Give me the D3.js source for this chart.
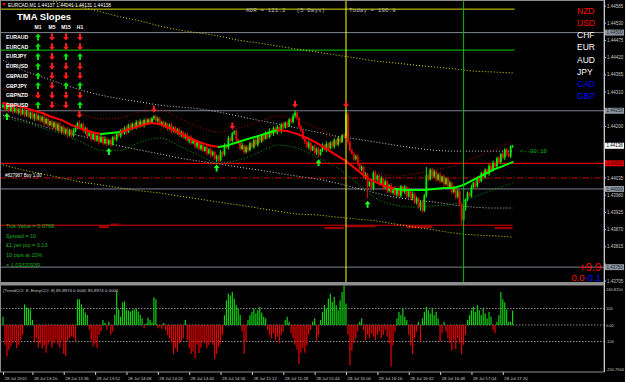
<!DOCTYPE html>
<html>
<head>
<meta charset="utf-8">
<script src="https://cdn.jsdelivr.net/npm/d3@7/dist/d3.min.js"></script>
<style>
  body { margin: 0; background: #000; }
  svg { display: block; }
  text { font-family: "Liberation Sans", Arial, sans-serif; }
  .mono { font-family: "Liberation Mono", "DejaVu Sans Mono", monospace; }
</style>
</head>
<body>
<svg id="chart"></svg>
<script>
const width = 625;
const height = 382;
const plotRight = 604;
const mainBottom = 282;
const subTop = 285;
const subBottom = 372;

// ---- data (prices in points above 1.44000) ----
const opens = [262,268,255,270,250,262,248,258,244,256, 240,252,236,248,230,244,226,240,222,234,
  218,230,210,224,204,216,198,212,190,206, 184,198,178,192,172,188,170,186,198,210,
  196,206,184,194,170,180,160,176,156,170, 150,166,146,160,144,156,142,166,158,176,
  170,188,178,196,182,204,192,208,198,214, 202,216,204,220,208,222,212,226,232,218,
  224,206,214,198,208,192,204,186,196,180, 190,172,182,164,172,154,166,146,156,136,
  148,128,140,122,134,114,126,108,118,96, 104,92,118,110,140,132,162,154,178,184,
  158,146,128,140,118,134,124,146,134,156, 142,166,152,172,160,180,166,186,176,194,
  180,198,186,206,196,212,202,222,214,234, 244,226,200,186,160,150,134,146,124,136,
  116,128,110,124,140,126,144,130,148,136, 156,142,162,150,172,168,238,150,124,112,
  96,104,80,62,70,38,46,10,22,2, 52,30,42,16,34,4,24,-6,12,-12,
  4,-18,0,-22,8,-10,6,-24,-8,-30, -16,-44,-30,-58,-42,-70,-20,44,30,62,
  40,56,30,46,24,40,16,34,6,20, -10,4,-26,-8,-48,-100,-62,-34,-14,-22,
  6,20,8,36,24,50,38,62,48,74, 60,84,72,98,86,112,100,126,110,104,137];
const closes = [268,255,270,250,262,248,258,244,256,240, 252,236,248,230,244,226,240,222,234,218,
  230,210,224,204,216,198,212,190,206,184, 198,178,192,172,188,170,186,198,210,196,
  206,184,194,170,180,160,176,156,170,150, 166,146,160,144,156,142,166,158,176,170,
  188,178,196,182,204,192,208,198,214,202, 216,204,220,208,222,212,226,232,218,224,
  206,214,198,208,192,204,186,196,180,190, 172,182,164,172,154,166,146,156,136,148,
  128,140,122,134,114,126,108,118,96,104, 92,118,110,140,132,162,154,178,184,158,
  146,128,140,118,134,124,146,134,156,142, 166,152,172,160,180,166,186,176,194,180,
  198,186,206,196,212,202,222,214,234,244, 226,200,186,160,150,134,146,124,136,116,
  128,110,124,140,126,144,130,148,136,156, 142,162,150,172,168,238,150,124,112,96,
  104,80,62,70,38,46,10,22,2,52, 30,42,16,34,4,24,-6,12,-12,4,
  -18,0,-22,8,-10,6,-24,-8,-30,-16, -44,-30,-58,-42,-70,-20,44,30,62,40,
  56,30,46,24,40,16,34,6,20,-10, 4,-26,-8,-48,-100,-62,-34,-14,-22,6,
  20,8,36,24,50,38,62,48,74,60, 84,72,98,86,112,100,126,110,104,137,138];
const wickUp = [6,4,8,3,5,7,4,6,3,5, 7,4,5,8,3,6,4,5,7,3, 5,8,4,6,3,7,5,4,6,8, 4,6,3,7,5,4,8,6,5,9,
  4,7,5,3,6,8,4,5,7,3, 6,4,8,5,3,7,4,6,5,8, 3,6,4,7,5,8,4,3,6,5, 7,4,5,8,3,6,4,4,5,7,
  6,3,5,7,4,6,8,3,5,4, 7,5,3,6,8,4,5,7,3,6, 4,8,5,3,6,4,7,5,3,6, 5,7,4,6,3,8,5,4,4,6,
  4,6,8,3,5,7,4,6,5,8, 3,6,4,7,5,3,8,4,6,5, 7,4,5,8,3,6,4,5,7,8, 4,6,5,3,7,4,8,5,3,6,
  5,7,4,6,3,8,5,4,6,7, 4,6,5,3,7,14,8,5,4,6, 5,7,4,6,3,8,5,4,6,5, 7,4,5,8,3,6,4,5,7,3,
  6,4,8,5,3,7,4,6,5,8, 3,6,4,7,5,4,26,5,4,6, 7,4,5,8,3,6,4,5,7,3, 6,4,8,5,3,7,4,6,5,8,
  3,6,4,7,5,8,4,3,6,5, 7,4,5,8,3,6,4,5,7,3,3];
const wickDn = [5,7,4,6,3,8,5,4,6,7, 4,6,5,3,7,4,8,5,3,6, 5,7,4,6,3,8,5,4,6,5, 7,4,5,8,3,6,4,5,7,3,
  6,4,8,5,3,7,4,6,5,8, 3,6,4,7,5,6,4,3,6,5, 7,4,5,8,3,6,4,5,7,3, 6,4,8,5,3,7,4,6,5,8,
  4,6,5,3,7,4,8,5,3,6, 5,7,4,6,3,8,5,4,6,7, 4,6,5,3,7,4,8,5,3,10, 6,4,8,5,3,7,4,6,5,8,
  3,6,4,7,5,8,4,3,6,5, 7,4,5,8,3,6,4,5,7,3, 6,4,8,5,3,7,4,6,5,8, 4,6,5,3,7,4,8,5,3,6,
  8,7,4,6,3,8,5,4,6,7, 4,6,5,3,7,4,8,5,3,6, 5,7,4,6,3,8,40,4,6,7, 4,6,5,3,7,4,8,5,3,6,
  5,7,4,6,3,8,5,4,6,7, 4,6,5,12,7,4,8,5,3,6, 5,7,4,6,3,8,5,4,6,7, 4,6,5,3,16,4,8,5,3,6,
  5,7,4,6,3,8,5,4,6,7, 4,6,5,3,7,4,8,5,3,6,6];

// TMA centre line, every 5 bars, and its trend flag per segment (1 = up / green)
const tmaMid = [275,268,262,252,243,230,220,204,192,182, 176,179,182,192,201,211,208,195,179,163,
  150,140,134,140,150,160,169,179,188,185, 176,163,147,128,108,89,64,38,22,9,
  0,-3,-3,-3,0,3,3,13,29,45, 61,73,86];
const tmaTrend = [0,0,0,0,0,0,0,0,0,0, 1,1, 0,0,0,0,0,0,0,0,0,0, 1,1,1,1,1,1,
  0,0,0,0,0,0,0,0,0,0,0,0, 1,1,1,1,1,1,1,1,1,1,1,1];
// bands, every 10 bars
const tmaUpper = [320,307,288,265,240,224,227,246,252,227, 198,182,195,214,233,220,195,163,108,54,
  41,48,61,73,99,124,153];
const tmaLower = [227,214,195,176,150,124,124,150,163,137, 108,83,92,115,140,131,102,70,22,-29,
  -51,-58,-54,-48,-26,-3,19];
const outerUpper = [412,380,358,336,316,300,288,278,268,262, 256,246,233,220,208,195,182,169,160,150,
  140,131,124,121,121,121,121];
const outerLower = [236,220,201,185,169,153,137,124,112,99, 89,80,70,61,51,41,32,19,3,-13,
  -26,-35,-42,-51,-58,-61,-61];
const channelUpper = [633,620,607,595,582,566,550,537,521,508, 499,489,476,467,457,447,438,428,419,409,
  403,396,390,384,377,374,371];
const channelLower = [77,61,48,35,22,13,3,-6,-13,-23, -32,-42,-51,-61,-71,-80,-83,-90,-96,-102,
  -112,-122,-131,-141,-147,-150,-154];

// signal arrows (bar index)
const sellArrows = [39, 77, 117, 149, 175];
const buyArrows = [2, 54, 109, 161, 186];

// CCI histogram
const cci = [50,-120,-190,-150,-130,-110,-95,-140,-120,-90, -60,125,106,100,94,31,-106,-81,-137,-110,
  -143,-125,-168,-120,-100,-137,-110,-90,-120,-137, -95,-175,-187,-95,-80,-70,-75,-100,156,156,
  125,100,75,60,-30,-90,-130,-110,-140,-60, -40,30,12,-31,20,-60,-40,62,206,94,
  50,137,144,94,88,81,90,95,100,81, 62,40,-20,10,44,30,15,168,156,-20,
  -10,-25,12,-31,-62,-80,-106,-175,-140,-160, -110,-100,-80,31,-90,-140,-175,-160,-200,-120,
  -170,-137,-100,-110,-140,-120,-100,-120,-206,-175, -130,-110,-60,60,150,190,180,200,160,120,
  100,60,-40,-175,-100,30,60,80,100,70, 90,110,75,50,40,-30,-60,-80,-50,-90,
  -70,-110,-60,-40,30,50,20,-50,-80,-120, -150,-237,-168,-140,-168,-125,-60,-30,20,40,
  -94,-60,30,80,120,100,160,190,140,170, 120,90,150,200,240.8,130,-60,-245,-156,-110,
  -80,-40,20,40,-30,-95,-60,-80,-50,-70, -90,-60,-40,-80,-60,-30,-70,-110,-250.8,-125,
  -40,40,80,60,100,50,30,-60,-125,-175, -80,-40,20,-100,40,80,110,90,70,100,
  60,80,40,-100,-50,20,-40,-80,-110,-156, -90,-145,-80,-110,-175,-120,-60,30,60,90,
  110,80,120,90,60,100,70,40,80,50, -30,-50,20,60,200,156,137,94,20,20,85.9];

// levels
const grayLevels = [1.445, 1.4425, 1.44, 1.4375];
const redLevel = 1.44082;
const redDashLevel = 1.44035;
const yellowLevel = 1.44575;
const greenLevel = 1.44444;
const dayOpenLevel = 1.43884;
const dayOpenBlocks = [[49, 54, 1.43878], [55, 59, 1.43886], [164, 174, 1.43875], [175, 190, 1.43881],
  [206, 219, 1.43878], [251, 260, 1.43875]];
const newsBar = 175;
const nowBar = 235;
const lastPrice = 1.44138;

const priceTicks = ["1.44585","1.44530","1.44475","1.44420","1.44365","1.44310","1.44255","1.44200",
  "1.44145","1.44090","1.44035","1.43980","1.43925","1.43870","1.43815","1.43760","1.43705"];
const timeTicks = ["13:05","13:20","13:36","13:52","14:08","14:24","14:40","14:56","15:12","15:28",
  "15:44","16:00","16:16","16:32","16:48","17:04","17:20"];

const pairs = ["EURAUD","EURCAD","EURJPY","EURUSD","GBPAUD","GBPJPY","GBPNZD","GBPUSD"];
const slopeFrames = ["M1","M5","M15","H1"];
const slopeM1 = [1,1,1,1,1,1,-1,1];
const slopeM5 = [-1,-1,-1,-1,-1,-1,-1,-1];
const slopeM15 = [-1,-1,1,-1,-1,1,-1,-1];
const slopeH1 = [-1,-1,1,-1,-1,1,-1,1];

const currencies = ["NZD","USD","CHF","EUR","AUD","JPY","CAD","GBP"];
const currencyGroup = [1,1,0,0,0,0,-1,-1];

const infoLines = ["Tick Value = 0.0768","Spread = 10","\u00a31 per pip = 0.13","10 pips at 10%","= 1.09320939"];

// ---- scales ----
const N = closes.length;
const base = 1.44;
const toPrice = p => base + p / 100000;
const startTime = new Date(2015, 6, 28, 13, 5);
const barTime = i => d3.timeMinute.offset(startTime, i);

const x = d3.scaleTime().domain([startTime, barTime(260)]).range([3, 512.6]);
const y = d3.scaleLinear().domain([1.44585, 1.4376]).range([6, 264]);
const yc = d3.scaleLinear().domain([100, -100]).range([308.5, 341.5]);

const svg = d3.select("#chart").attr("width", width).attr("height", height);
svg.append("rect").attr("width", width).attr("height", height).attr("fill", "#000");

svg.append("clipPath").attr("id", "mainClip")
  .append("rect").attr("x", 0).attr("y", 0).attr("width", plotRight).attr("height", mainBottom);
svg.append("clipPath").attr("id", "subClip")
  .append("rect").attr("x", 0).attr("y", subTop).attr("width", plotRight).attr("height", subBottom - subTop);

const main = svg.append("g").attr("clip-path", "url(#mainClip)");

// horizontal levels
main.selectAll(".gray").data(grayLevels).enter().append("line")
  .attr("x1", 0).attr("x2", plotRight).attr("y1", d => y(d)).attr("y2", d => y(d))
  .attr("stroke", "#7d8590").attr("stroke-width", 1);
main.append("line").attr("x1", 0).attr("x2", plotRight).attr("y1", y(redLevel)).attr("y2", y(redLevel))
  .attr("stroke", "#e00000").attr("stroke-width", 1.2);
main.append("line").attr("x1", 0).attr("x2", plotRight).attr("y1", y(redDashLevel)).attr("y2", y(redDashLevel))
  .attr("stroke", "#d00000").attr("stroke-width", 1).attr("stroke-dasharray", "6,2,1,2");
main.append("line").attr("x1", 0).attr("x2", x(barTime(260)) + 2).attr("y1", y(yellowLevel)).attr("y2", y(yellowLevel))
  .attr("stroke", "#e0e000").attr("stroke-width", 1);
main.append("line").attr("x1", 0).attr("x2", x(barTime(260)) + 2).attr("y1", y(greenLevel)).attr("y2", y(greenLevel))
  .attr("stroke", "#00d000").attr("stroke-width", 1);

// day open line
main.append("line").attr("x1", 0).attr("x2", x(barTime(260))).attr("y1", y(dayOpenLevel)).attr("y2", y(dayOpenLevel))
  .attr("stroke", "#e00000").attr("stroke-width", 1);
main.selectAll(".dob").data(dayOpenBlocks).enter().append("line")
  .attr("x1", d => x(barTime(d[0]))).attr("x2", d => x(barTime(d[1])))
  .attr("y1", d => y(d[2])).attr("y2", d => y(d[2]))
  .attr("stroke", "#a00000").attr("stroke-width", 2.2);

// dotted bands
const bandIdx = d3.range(0, 261, 10);
const bandLine = d3.line().x((d, k) => x(barTime(bandIdx[k]))).y(d => y(toPrice(d))).curve(d3.curveMonotoneX);
[[channelUpper, "#d8d800"], [channelLower, "#d8d800"], [outerUpper, "#d0d0d0"], [outerLower, "#d0d0d0"],
 [tmaUpper, "#b00000"], [tmaLower, "#00a800"]].forEach(([arr, color]) => {
  main.append("path").attr("d", bandLine(arr)).attr("fill", "none")
    .attr("stroke", color).attr("stroke-width", 1).attr("stroke-dasharray", "1,2");
});

// candles
const candles = d3.range(N).map(i => {
  const o = toPrice(opens[i]), c = toPrice(closes[i]);
  return {
    i, o, c,
    h: toPrice(Math.max(opens[i], closes[i]) + wickUp[i]),
    l: toPrice(Math.min(opens[i], closes[i]) - wickDn[i]),
    up: closes[i] >= opens[i]
  };
});
const candleG = main.append("g");
candleG.selectAll(".wick").data(candles).enter().append("line")
  .attr("x1", d => x(barTime(d.i))).attr("x2", d => x(barTime(d.i)))
  .attr("y1", d => y(d.h)).attr("y2", d => y(d.l))
  .attr("stroke", d => d.up ? "#00ee00" : "#ee0000").attr("stroke-width", 1);
candleG.selectAll(".body").data(candles).enter().append("rect")
  .attr("x", d => x(barTime(d.i)) - 0.9)
  .attr("y", d => y(Math.max(d.o, d.c)))
  .attr("width", 1.8)
  .attr("height", d => Math.max(0.8, Math.abs(y(d.o) - y(d.c))))
  .attr("fill", d => d.up ? "#00ee00" : "#ee0000");

// TMA centre
const midIdx = d3.range(0, 261, 5);
const segs = d3.range(midIdx.length - 1).map(k => ({ a: k, b: k + 1, up: tmaTrend[k] }));
main.selectAll(".tma").data(segs).enter().append("line")
  .attr("x1", d => x(barTime(midIdx[d.a]))).attr("y1", d => y(toPrice(tmaMid[d.a])))
  .attr("x2", d => x(barTime(midIdx[d.b]))).attr("y2", d => y(toPrice(tmaMid[d.b])))
  .attr("stroke", d => d.up ? "#00ff00" : "#ff0000").attr("stroke-width", 2).attr("stroke-linecap", "round");

// vertical lines
main.append("line").attr("x1", x(barTime(newsBar))).attr("x2", x(barTime(newsBar)))
  .attr("y1", 0).attr("y2", mainBottom).attr("stroke", "#ffff00").attr("stroke-width", 1);
main.append("line").attr("x1", x(barTime(nowBar))).attr("x2", x(barTime(nowBar)))
  .attr("y1", 0).attr("y2", mainBottom).attr("stroke", "#00c000").attr("stroke-width", 1);

// arrows
const arrowUp = "M0,-3.5L3,0L1,0L1,3.5L-1,3.5L-1,0L-3,0Z";
const arrowDown = "M0,3.5L3,0L1,0L1,-3.5L-1,-3.5L-1,0L-3,0Z";
main.selectAll(".sell").data(sellArrows).enter().append("path")
  .attr("d", arrowDown)
  .attr("transform", i => `translate(${x(barTime(i))},${y(candles[i].h) - 6})`)
  .attr("fill", "#ff2020");
main.selectAll(".buy").data(buyArrows).enter().append("path")
  .attr("d", arrowUp)
  .attr("transform", i => `translate(${x(barTime(i))},${y(candles[i].l) + 6})`)
  .attr("fill", "#20ff20");

// ---- main texts ----
svg.append("path").attr("d", "M2,3L6,3L4,6Z").attr("fill", "#e00000");
svg.append("text").attr("x", 8).attr("y", 6.5).attr("font-size", 4.8).attr("fill", "#fff")
  .text("EURCAD,M1  1.44137 1.44141 1.44131 1.44138");
svg.append("text").attr("class", "mono").attr("x", 246).attr("y", 12).attr("font-size", 6)
  .attr("fill", "#b8b8b8").attr("xml:space", "preserve").text("ADR = 121.2   (5 Days)");
svg.append("text").attr("class", "mono").attr("x", 349).attr("y", 12).attr("font-size", 6)
  .attr("fill", "#b8b8b8").text("Today = 106.8");

svg.append("text").attr("x", 17).attr("y", 20).attr("font-size", 9.5).attr("font-weight", "bold")
  .attr("fill", "#fff").text("TMA Slopes");
const colX = d3.scalePoint().domain(slopeFrames).range([38, 80]);
svg.selectAll(".tf").data(slopeFrames).enter().append("text")
  .attr("x", d => colX(d)).attr("y", 29).attr("text-anchor", "middle")
  .attr("font-size", 5).attr("font-weight", "bold").attr("fill", "#fff").text(d => d);
const rowY = d3.scalePoint().domain(pairs).range([37, 105]);
svg.selectAll(".pair").data(pairs).enter().append("text")
  .attr("x", 6).attr("y", d => rowY(d) + 2).attr("font-size", 5.2).attr("font-weight", "bold")
  .attr("fill", "#fff").text(d => d);
const slopeCols = [slopeM1, slopeM5, slopeM15, slopeH1];
slopeCols.forEach((col, c) => {
  svg.selectAll(".sl" + c).data(col).enter().append("path")
    .attr("d", d => d > 0 ? arrowUp : arrowDown)
    .attr("transform", (d, r) => `translate(${colX(slopeFrames[c])},${rowY(pairs[r])})`)
    .attr("fill", d => d > 0 ? "#00e000" : "#ff1a1a");
});

const curY = d3.scalePoint().domain(currencies).range([14, 99]);
svg.selectAll(".cur").data(currencies).enter().append("text")
  .attr("x", 577).attr("y", d => curY(d)).attr("font-size", 8.5)
  .attr("fill", (d, k) => currencyGroup[k] > 0 ? "#ff0000" : currencyGroup[k] < 0 ? "#0000ff" : "#ffffff")
  .text(d => d);

svg.append("text").attr("x", 5).attr("y", 177).attr("font-size", 4.5).attr("fill", "#fff").text("#827987 Buy 1.00");
svg.append("text").attr("class", "mono").attr("x", 520).attr("y", 153).attr("font-size", 5.6)
  .attr("fill", "#00c000").text("<--00:10");

svg.selectAll(".info").data(infoLines).enter().append("text")
  .attr("x", 6).attr("y", (d, k) => 228 + k * 9.7).attr("font-size", 5.5).attr("fill", "#1fae1f").text(d => d);

svg.append("text").attr("x", 601).attr("y", 271).attr("text-anchor", "end").attr("font-size", 11)
  .attr("fill", "#ff0000").text("+9.9");
const pl = svg.append("text").attr("x", 601).attr("y", 281).attr("text-anchor", "end").attr("font-size", 9.5);
pl.append("tspan").attr("fill", "#ff0000").text("0.0");
pl.append("tspan").attr("fill", "#0000ff").text("-0.1");

// ---- CCI sub window ----
const sub = svg.append("g").attr("clip-path", "url(#subClip)");
[100, 0, -100].forEach(v => {
  sub.append("line").attr("x1", 0).attr("x2", plotRight).attr("y1", yc(v)).attr("y2", yc(v))
    .attr("stroke", "#8a8a8a").attr("stroke-dasharray", "1.5,1.5");
});
sub.selectAll(".cci").data(cci).enter().append("rect")
  .attr("x", (d, i) => x(barTime(i)) - 0.6)
  .attr("y", d => Math.min(yc(d), yc(0)))
  .attr("width", 1.2)
  .attr("height", d => Math.abs(yc(d) - yc(0)))
  .attr("fill", d => d >= 0 ? "#10d010" : "#e80000");
svg.append("text").attr("x", 3).attr("y", 292).attr("font-size", 4.4).attr("fill", "#c8c8c8")
  .text("(TrendCCI: 8, EntryCCI: 8) 85.8974 0.0000 85.8974 0.0000");

// ---- frames ----
svg.append("rect").attr("x", 0.5).attr("y", 0.5).attr("width", plotRight - 0.5).attr("height", mainBottom)
  .attr("fill", "none").attr("stroke", "#8c8c8c");
svg.append("rect").attr("x", 0).attr("y", 283).attr("width", plotRight).attr("height", 2).attr("fill", "#909090");
svg.append("rect").attr("x", 0.5).attr("y", subTop).attr("width", plotRight - 0.5).attr("height", subBottom - subTop)
  .attr("fill", "none").attr("stroke", "#8c8c8c");
svg.append("line").attr("x1", plotRight + 0.5).attr("x2", plotRight + 0.5).attr("y1", 0).attr("y2", subBottom)
  .attr("stroke", "#c8c8c8");

// ---- price axis ----
const axisTextColor = "#c8c8c8";
const boxPrices = grayLevels.concat([redLevel, lastPrice]);
// the terminal hides scale labels that sit under a marker box
const freeTicks = priceTicks.filter(t => boxPrices.every(p => Math.abs(y(+t) - y(p)) > 5.5));
svg.selectAll(".ptick").data(priceTicks).enter().append("line")
  .attr("x1", plotRight).attr("x2", plotRight + 2).attr("y1", d => y(+d)).attr("y2", d => y(+d))
  .attr("stroke", axisTextColor);
svg.selectAll(".plabel").data(freeTicks).enter().append("text")
  .attr("x", 607).attr("y", d => y(+d) + 1.6).attr("font-size", 4.5).attr("fill", axisTextColor).text(d => d);
function priceBox(price, label, bg, fg) {
  const py = y(price);
  svg.append("rect").attr("x", 605).attr("y", py - 3).attr("width", 19).attr("height", 6).attr("fill", bg);
  svg.append("text").attr("x", 606.5).attr("y", py + 1.7).attr("font-size", 4.5).attr("fill", fg).text(label);
}
grayLevels.forEach(p => priceBox(p, p.toFixed(5), "#8e96a0", "#20242a"));
priceBox(redLevel, redLevel.toFixed(5), "#e00000", "#500000");
priceBox(lastPrice, lastPrice.toFixed(5), "#ffffff", "#000000");

// CCI axis labels
const cciLabels = [["240.8150", 289], ["100", yc(100)], ["0.00", yc(0)], ["-100", yc(-100)], ["-250.7944", 369.5]];
svg.selectAll(".ctick").data(cciLabels).enter().append("text")
  .attr("x", 606).attr("y", d => d[1] + 1.6).attr("font-size", 4).attr("fill", axisTextColor).text(d => d[0]);

// ---- time axis ----
const parseHM = d3.timeParse("%Y-%m-%d %H:%M");
const tickDates = timeTicks.map(t => parseHM("2015-07-28 " + t));
const fmtFirst = d3.timeFormat("%d %b %Y");
const fmtRest = d3.timeFormat("%d %b %H:%M");
const xAxis = d3.axisBottom(x).tickValues(tickDates).tickSize(3)
  .tickFormat((d, k) => k === 0 ? fmtFirst(d) : fmtRest(d));
const ax = svg.append("g").attr("transform", `translate(0,${subBottom})`).call(xAxis);
ax.select(".domain").remove();
ax.selectAll("line").attr("stroke", axisTextColor);
ax.selectAll("text").attr("text-anchor", "start").attr("dx", 1).attr("y", 5)
  .attr("font-size", 4.3).attr("fill", axisTextColor).attr("font-family", "Liberation Sans, Arial, sans-serif");
</script>
</body>
</html>
